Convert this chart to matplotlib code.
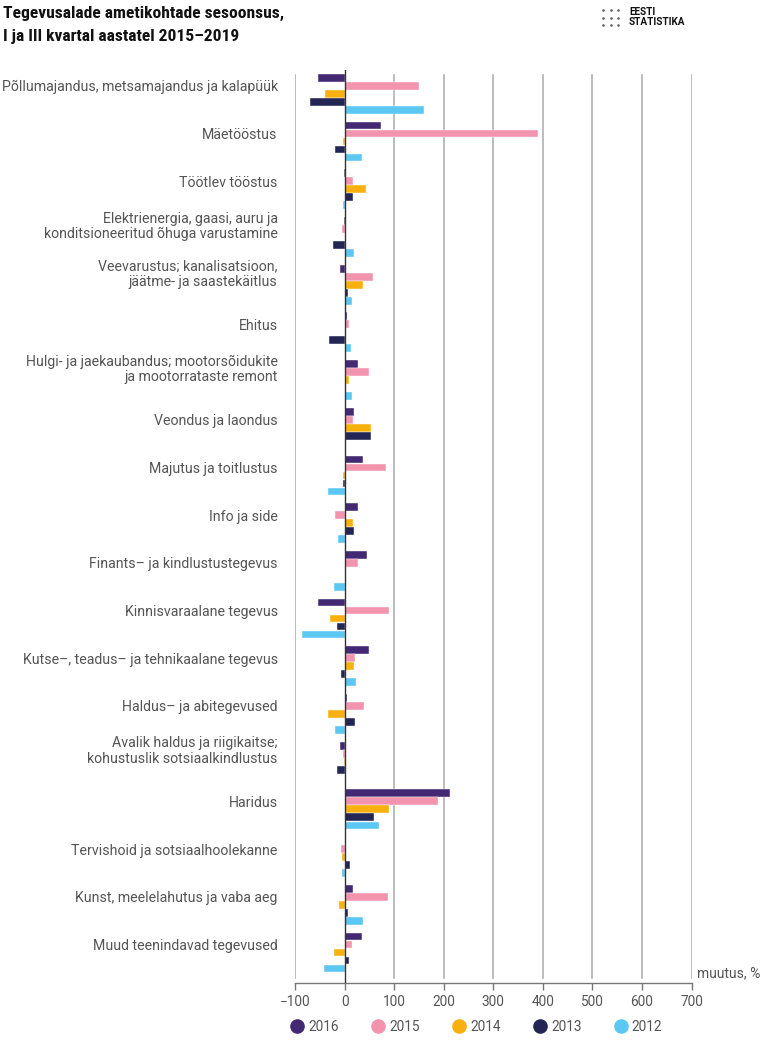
import matplotlib
matplotlib.use("Agg")
import matplotlib.pyplot as plt
from matplotlib.lines import Line2D
import numpy as np

plt.rcParams['font.family'] = ['Roboto', 'DejaVu Sans']
plt.rcParams['axes.unicode_minus'] = True

categories = [
    "Põllumajandus, metsamajandus ja kalapüük",
    "Mäetööstus",
    "Töötlev tööstus",
    "Elektrienergia, gaasi, auru ja\nkonditsioneeritud õhuga varustamine",
    "Veevarustus; kanalisatsioon,\njäätme- ja saastekäitlus",
    "Ehitus",
    "Hulgi- ja jaekaubandus; mootorsõidukite\nja mootorrataste remont",
    "Veondus ja laondus",
    "Majutus ja toitlustus",
    "Info ja side",
    "Finants– ja kindlustustegevus",
    "Kinnisvaraalane tegevus",
    "Kutse–, teadus– ja tehnikaalane tegevus",
    "Haldus– ja abitegevused",
    "Avalik haldus ja riigikaitse;\nkohustuslik sotsiaalkindlustus",
    "Haridus",
    "Tervishoid ja sotsiaalhoolekanne",
    "Kunst, meelelahutus ja vaba aeg",
    "Muud teenindavad tegevused",
]

years = ["2016", "2015", "2014", "2013", "2012"]

v2016 = [-54, 73, -1, -2, -10, 5, 28, 20, 38, 28, 46, -53, 50, 4, -9, 212, 0, 17, 35]
v2015 = [150, 391, 17, -6, 58, 8, 50, 17, 84, -19, 28, 89, 21, 40, -4, 188, -7, 87, 14]
v2014 = [-40, -3, 44, 1, 38, 0, 8, 54, -3, 18, 1, -30, 19, -34, -2, 89, -6, -12, -21]
v2013 = [-69, -20, 18, -24, 7, -31, 3, 54, -4, 20, 2, -15, -8, 22, -15, 59, 11, 6, 9]
v2012 = [161, 36, -3, 19, 15, 13, 15, 1, -33, -13, -22, -86, 23, -19, 2, 69, -5, 37, -42]

series = [v2016, v2015, v2014, v2013, v2012]
colors = ["#432874", "#f294ae", "#f8b00f", "#232654", "#5bc8f4"]

xticks = [-100, 0, 100, 200, 300, 400, 500, 600, 700]

fig = plt.figure(figsize=(7.62, 10.44), dpi=100)
W, H = 762, 1044
ax = fig.add_axes([295 / W, 1 - 983 / H, (691.5 - 295) / W, (983 - 70) / H])

y = np.arange(len(categories))
step = 0.168
for k, (vals, c) in enumerate(zip(series, colors)):
    ax.barh(y + (k - 2) * step, vals, height=step * 0.97, color=c,
            edgecolor="white", linewidth=0.3, zorder=3, label=years[k])

ax.set_xlim(-100, 700)
ax.set_ylim(18.64, -0.50)

for t in xticks:
    if t == 0:
        ax.axvline(0, color="#333333", lw=1.0, zorder=4)
    else:
        ax.axvline(t, color="#b0b0b0", lw=1.2, ymax=0.994, ymin=0.006, zorder=1)

# two-line labels sit a little higher
label_pos = [i - step - (0.1 if "\n" in c else 0) for i, c in enumerate(categories)]
ax.set_yticks(label_pos)
ax.set_yticklabels(categories, fontsize=10.2, color="#555555", ha="right",
                   linespacing=1.12)
ax.tick_params(axis="y", length=0, pad=12.5)

ax.set_xticks(xticks)
ax.set_xticklabels([f"{t}".replace("-", "−") for t in xticks],
                   fontsize=9.8, color="#555555")
ax.tick_params(axis="x", length=5, color="#777777", width=1, pad=4)

for s in ["top", "right", "left"]:
    ax.spines[s].set_visible(False)
ax.spines["bottom"].set_color("#777777")
ax.spines["bottom"].set_linewidth(1)

ax.text(711, 18.44, "muutus, %", fontsize=10, color="#555555",
        ha="left", va="center")

# title
title_font = ["Roboto Condensed", "Liberation Sans Narrow",
              "DejaVu Sans Condensed", "Open Sans Condensed", "Roboto"]
fig.text(3 / W, 1 - 13 / H, "Tegevusalade ametikohtade sesoonsus,",
         fontsize=12.6, fontweight="bold", color="#111111", va="center",
         family=title_font, fontstretch="condensed")
fig.text(3 / W, 1 - 37 / H, "I ja III kvartal aastatel 2015–2019",
         fontsize=12.6, fontweight="bold", color="#111111", va="center",
         family=title_font, fontstretch="condensed")

# logo
for xx in (603, 611, 618):
    for yy in (10, 18, 25):
        fig.add_artist(Line2D([xx / W], [1 - yy / H], marker="o",
                              markersize=0.9, color="#666666",
                              transform=fig.transFigure))
fig.text(629 / W, 1 - 12 / H, "EESTI", fontsize=7.2, fontweight="bold",
         color="#111111", va="center")
fig.text(629 / W, 1 - 22 / H, "STATISTIKA", fontsize=7.2, fontweight="bold",
         color="#111111", va="center")

handles = [Line2D([0], [0], marker="o", ls="", markersize=9.5,
                  markerfacecolor=c, markeredgecolor=c) for c in colors]
fig.legend(handles, years, loc="center left", ncol=5, frameon=False,
           bbox_to_anchor=(277 / W, 1 - 1027 / H), fontsize=9.8,
           handletextpad=0.2, columnspacing=2.3, handlelength=1.2,
           labelcolor="#555555")

fig.savefig("out.png", dpi=100)
